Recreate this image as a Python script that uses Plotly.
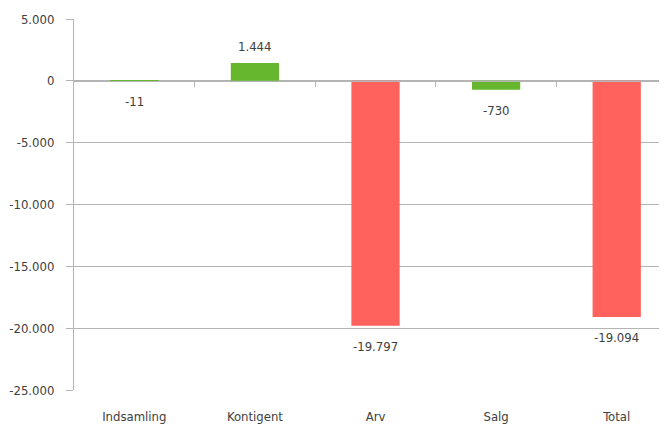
import plotly.graph_objects as go

categories = ["Indsamling", "Kontigent", "Arv", "Salg", "Total"]
values = [-11, 1444, -19797, -730, -19094]
bar_colors = ["#66b72d", "#66b72d", "#ff625c", "#66b72d", "#ff625c"]
y_tickvals = [5000, 0, -5000, -10000, -15000, -20000, -25000]
y_ticktext = ["5.000", "0", "-5.000", "-10.000", "-15.000", "-20.000", "-25.000"]


def fmt(v):
    s = f"{abs(v):,}".replace(",", ".")
    return ("-" if v < 0 else "") + s


labels = [fmt(v) for v in values]
FONT = "DejaVu Sans Condensed, Liberation Sans Narrow, sans-serif"
TXT = "#404040"
GRID = "#b4b4b4"
FS = 13

fig = go.Figure()
fig.add_trace(go.Bar(
    x=list(range(len(categories))), y=values, marker_color=bar_colors,
    marker_line_width=0, width=0.4, hoverinfo="skip",
))
fig.add_trace(go.Scatter(x=[0], y=[0], xaxis="x2", mode="markers",
                         marker=dict(opacity=0), showlegend=False, hoverinfo="skip"))

for i, (v, t) in enumerate(zip(values, labels)):
    fig.add_annotation(x=i, y=v, text=t, showarrow=False,
                       yanchor="bottom" if v > 0 else "top",
                       yshift=7 if v > 0 else -11,
                       font=dict(family=FONT, size=FS, color=TXT))

xr = [-0.5, 4.417]
fig.update_layout(
    width=659, height=417,
    margin=dict(l=66, r=0, t=11, b=35),
    paper_bgcolor="white", plot_bgcolor="white",
    showlegend=False,
    font=dict(family=FONT, size=FS, color=TXT),
    xaxis=dict(range=xr, tickvals=list(range(len(categories))), ticktext=categories,
               showgrid=False, zeroline=False, showline=False, ticks="",
               ticklabelstandoff=17,
               tickfont=dict(family=FONT, size=FS, color=TXT)),
    xaxis2=dict(range=xr, overlaying="x", anchor="free", position=(0 - (-25000)) / 30000,
                tickvals=[0.5, 1.5, 2.5, 3.5], ticks="outside", ticklen=5, tickcolor=GRID,
                showticklabels=False, showgrid=False, zeroline=False,
                showline=True, linecolor=GRID, linewidth=1),
    yaxis=dict(range=[-25000, 5000], tickvals=y_tickvals, ticktext=y_ticktext,
               showgrid=True, gridcolor=GRID, gridwidth=1, zeroline=False,
               showline=True, linecolor=GRID, ticks="outside", ticklen=7, tickcolor=GRID,
               ticklabelstandoff=9,
               tickfont=dict(family=FONT, size=FS, color=TXT)),
)
fig.write_html("out.html")
